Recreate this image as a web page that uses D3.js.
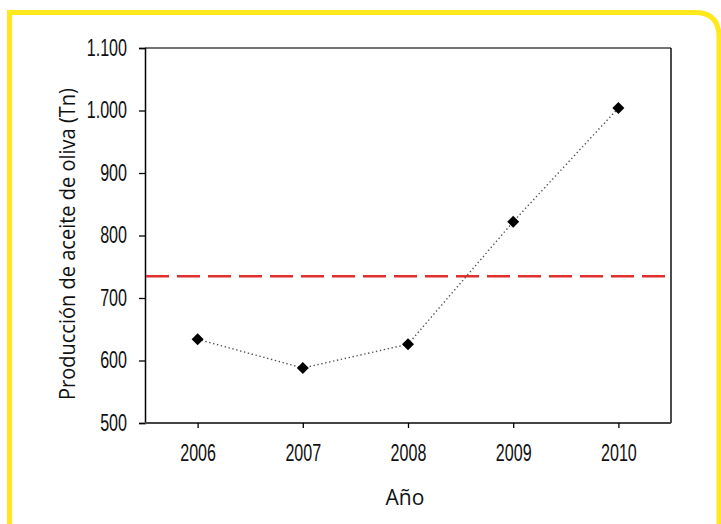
<!DOCTYPE html>
<html><head><meta charset="utf-8">
<script src="https://cdn.jsdelivr.net/npm/d3@7"></script>
<style>
body{margin:0;background:#fff;}
svg{display:block;}
.tick text{font-family:"Liberation Sans",Arial,sans-serif;font-size:23px;fill:#111;}
</style></head>
<body><svg id="c" width="721" height="524"></svg>
<script>
const years = ["2006","2007","2008","2009","2010"];
const production = [634, 588, 626, 822, 1004];
const meanValue = 735;
const yTicks = [500,600,700,800,900,1000,1100];

const svg = d3.select("#c");
const m = {left:145, top:48, right:671, bottom:423};
const sx = 0.70;

// yellow frame
svg.append("path")
  .attr("d", "M9.5,530 L9.5,12.5 L695,12.5 Q719,12.5 719,37 L719,530")
  .attr("fill","none").attr("stroke","#FFE81C").attr("stroke-width",5);

const x = d3.scalePoint().domain(years).range([m.left, m.right]).padding(0.5);
const y = d3.scaleLinear().domain([500,1100]).range([m.bottom, m.top]);
const loc = d3.formatLocale({decimal:",", thousands:".", grouping:[3], currency:["",""]});
const fmt = loc.format(",d");

// frame top/right
svg.append("line").attr("x1",m.left).attr("x2",m.right).attr("y1",m.top).attr("y2",m.top)
  .attr("stroke","#444").attr("stroke-width",1.5);
svg.append("line").attr("x1",m.right).attr("x2",m.right).attr("y1",m.top).attr("y2",m.bottom)
  .attr("stroke","#111").attr("stroke-width",1.5);

// axes
const gy = svg.append("g").attr("transform",`translate(${m.left},0)`)
  .call(d3.axisLeft(y).tickValues(yTicks).tickFormat(fmt).tickSize(6).tickPadding(12));
gy.select(".domain").attr("stroke","#000").attr("stroke-width",1.5);
gy.selectAll(".tick line").attr("stroke","#000").attr("stroke-width",1.3);
gy.selectAll(".tick text").attr("x", -18/sx).attr("transform",`scale(${sx},1)`);

const gx = svg.append("g").attr("transform",`translate(0,${m.bottom})`)
  .call(d3.axisBottom(x).tickSize(5).tickSizeOuter(0).tickPadding(17));
gx.select(".domain").attr("d",`M${m.left},0H${m.right}`).attr("stroke","#444").attr("stroke-width",2);
gx.selectAll(".tick line").attr("stroke","#000").attr("stroke-width",1.3);
gx.selectAll(".tick text").attr("transform",`scale(${sx},1)`);

// mean line
svg.append("line").attr("x1",m.left+1).attr("x2",m.right-1)
  .attr("y1",y(meanValue)).attr("y2",y(meanValue))
  .attr("stroke","#E0302E").attr("stroke-width",2.5).attr("stroke-dasharray","23,8");

// data line
const data = years.map((d,i)=>({year:d, v:production[i]}));
svg.append("path").datum(data)
  .attr("d", d3.line().x(d=>x(d.year)).y(d=>y(d.v)))
  .attr("fill","none").attr("stroke","#555").attr("stroke-width",1.4).attr("stroke-dasharray","1.4,2.6");

svg.selectAll(".mk").data(data).enter().append("path")
  .attr("transform", d=>`translate(${x(d.year)},${y(d.v)}) rotate(45)`)
  .attr("d", d3.symbol().type(d3.symbolSquare).size(72))
  .attr("fill","#000");

// titles
svg.append("text").attr("x",405).attr("y",505).attr("text-anchor","middle")
  .attr("font-family","'Open Sans', sans-serif").attr("font-size",21).attr("fill","#111").text("Año");
svg.append("text").attr("transform","translate(75,244) rotate(-90)").attr("text-anchor","middle")
  .attr("font-family","'Open Sans', sans-serif").attr("font-size",21).attr("fill","#111")
  .attr("textLength",312).attr("lengthAdjust","spacingAndGlyphs")
  .text("Producción de aceite de oliva (Tn)");
</script></body></html>
